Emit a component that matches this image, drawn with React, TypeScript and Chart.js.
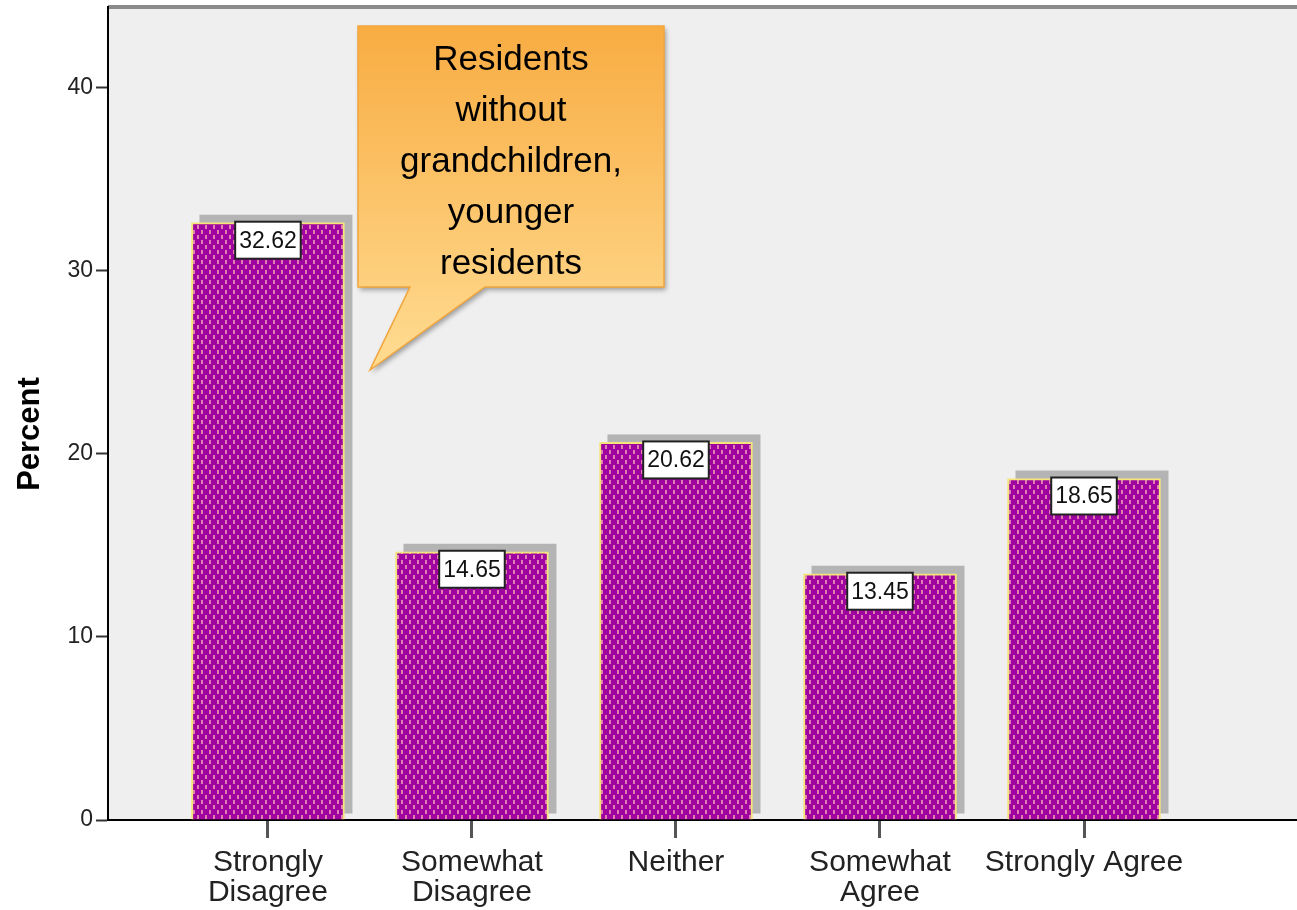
import React, { useEffect, useRef } from 'react';
import { Chart, registerables } from 'chart.js';

Chart.register(...registerables);

const categories = ['Strongly Disagree', 'Somewhat Disagree', 'Neither', 'Somewhat Agree', 'Strongly Agree'];
const tickLabels = [['Strongly', 'Disagree'], ['Somewhat', 'Disagree'], ['Neither'], ['Somewhat', 'Agree'], ['Strongly Agree']];
const percents = [32.62, 14.65, 20.62, 13.45, 18.65];
const yTicks = [0, 10, 20, 30, 40];
const calloutLines = ['Residents', 'without', 'grandchildren,', 'younger', 'residents'];
const yTitle = 'Percent';

const FONT = '"Liberation Sans", Arial, sans-serif';

export default function App() {
  const ref = useRef<HTMLCanvasElement>(null);

  useEffect(() => {
    document.body.style.margin = '0';
    const canvas = ref.current!;
    const tile = document.createElement('canvas');
    tile.width = 8;
    tile.height = 10;
    const t = tile.getContext('2d')!;
    t.fillStyle = '#a004a0';
    t.fillRect(0, 0, 8, 10);
    t.fillStyle = '#e080b0';
    t.fillRect(1, 0, 2, 4);
    t.fillRect(5, 5, 2, 4);
    const ctx0 = canvas.getContext('2d')!;
    const pattern = ctx0.createPattern(tile, 'repeat')!;

    const bgPlugin = {
      id: 'bgPlugin',
      beforeDraw(chart: any) {
        const { ctx, chartArea: ca } = chart;
        ctx.save();
        ctx.fillStyle = '#efefef';
        ctx.fillRect(ca.left, ca.top, ca.right - ca.left, ca.bottom - ca.top);
        ctx.fillStyle = '#8a8a8a';
        ctx.fillRect(ca.left, ca.top - 2, ca.right - ca.left, 4);
        ctx.restore();
      },
      beforeDatasetsDraw(chart: any) {
        const { ctx } = chart;
        const meta = chart.getDatasetMeta(0);
        ctx.save();
        ctx.fillStyle = '#b4b4b4';
        meta.data.forEach((bar: any) => {
          const p = bar.getProps(['x', 'y', 'base', 'width'], true);
          ctx.fillRect(p.x - p.width / 2 + 8, p.y - 8, p.width, p.base - p.y + 2);
        });
        ctx.restore();
      },
      afterDatasetsDraw(chart: any) {
        const { ctx } = chart;
        const meta = chart.getDatasetMeta(0);
        ctx.save();
        ctx.font = `23px ${FONT}`;
        ctx.textAlign = 'center';
        ctx.textBaseline = 'middle';
        meta.data.forEach((bar: any, i: number) => {
          const p = bar.getProps(['x', 'y'], true);
          const txt = percents[i].toFixed(2);
          const w = ctx.measureText(txt).width + 8;
          const h = 37;
          const top = p.y - 1;
          ctx.fillStyle = '#ffffff';
          ctx.fillRect(p.x - w / 2, top, w, h);
          ctx.strokeStyle = '#222';
          ctx.lineWidth = 2;
          ctx.strokeRect(p.x - w / 2, top, w, h);
          ctx.fillStyle = '#111';
          ctx.fillText(txt, p.x, top + h / 2 + 1);
        });
        ctx.restore();
      },
      afterDraw(chart: any) {
        const { ctx, chartArea: ca } = chart;
        // y axis title
        ctx.save();
        ctx.translate(39, 434);
        ctx.rotate(-Math.PI / 2);
        ctx.font = `bold 31px ${FONT}`;
        ctx.textAlign = 'center';
        ctx.textBaseline = 'alphabetic';
        ctx.fillStyle = '#000';
        ctx.fillText(yTitle, 0, 0);
        ctx.restore();

        // callout
        const L = ca.left + 250;
        const T = ca.top + 19;
        const R = L + 306;
        const B = T + 261;
        ctx.save();
        const g = ctx.createLinearGradient(0, T, 0, B + 83);
        g.addColorStop(0, '#f8ac42');
        g.addColorStop(1, '#ffdc92');
        ctx.beginPath();
        ctx.moveTo(L, T);
        ctx.lineTo(R, T);
        ctx.lineTo(R, B);
        ctx.lineTo(L + 127, B);
        ctx.lineTo(L + 12, B + 83);
        ctx.lineTo(L + 52, B);
        ctx.lineTo(L, B);
        ctx.closePath();
        ctx.shadowColor = 'rgba(0,0,0,0.35)';
        ctx.shadowBlur = 5;
        ctx.shadowOffsetX = 2;
        ctx.shadowOffsetY = 3;
        ctx.fillStyle = g;
        ctx.fill();
        ctx.shadowColor = 'transparent';
        ctx.strokeStyle = '#f2a53a';
        ctx.lineWidth = 1.5;
        ctx.stroke();
        ctx.fillStyle = '#000';
        ctx.font = `35px ${FONT}`;
        ctx.textAlign = 'center';
        ctx.textBaseline = 'alphabetic';
        calloutLines.forEach((line, i) => {
          ctx.fillText(line, (L + R) / 2, T + 44 + i * 51);
        });
        ctx.restore();
      },
    };

    const chart = new Chart(canvas, {
      type: 'bar',
      data: {
        datasets: [
          {
            data: percents.map((v, i) => ({ x: i, y: v })),
            backgroundColor: pattern,
            borderColor: '#f3e47c',
            borderWidth: 2,
            barThickness: 153,
          },
        ],
      },
      options: {
        animation: false,
        responsive: false,
        layout: { padding: { top: 7, right: 0, left: 0, bottom: 0 } },
        plugins: { legend: { display: false }, tooltip: { enabled: false } },
        scales: {
          x: {
            type: 'linear',
            min: -0.784,
            max: 5.044,
            offset: false,
            afterBuildTicks: (s: any) => {
              s.ticks = categories.map((_, i) => ({ value: i }));
            },
            afterFit: (s: any) => {
              s.height = 90;
              s.paddingLeft = 0;
              s.paddingRight = 0;
            },
            grid: { offset: false, drawOnChartArea: false, drawTicks: true, tickLength: 18, tickWidth: 3, tickColor: '#555' },
            border: { display: true, color: '#000', width: 2 },
            ticks: {
              autoSkip: false,
              maxRotation: 0,
              padding: 10,
              color: '#222',
              font: { family: FONT, size: 30, lineHeight: 1.0 },
              callback: (v: any) => tickLabels[v as number] ?? '',
            },
          },
          y: {
            min: 0,
            max: 44.4,
            afterBuildTicks: (s: any) => {
              s.ticks = yTicks.map((v) => ({ value: v }));
            },
            afterFit: (s: any) => {
              s.width = 108;
              s.paddingTop = 0;
              s.paddingBottom = 0;
            },
            grid: { drawOnChartArea: false, drawTicks: true, tickLength: 12, tickWidth: 2, tickColor: '#333' },
            border: { display: true, color: '#000', width: 2 },
            ticks: {
              padding: 3,
              color: '#222',
              font: { family: FONT, size: 23 },
            },
          },
        },
      },
      plugins: [bgPlugin],
    } as any);

    return () => chart.destroy();
  }, []);

  return (
    <div style={{ position: 'relative', width: 1297, height: 910 }}>
      <canvas ref={ref} width={1297} height={910} style={{ display: 'block' }} />
    </div>
  );
}
